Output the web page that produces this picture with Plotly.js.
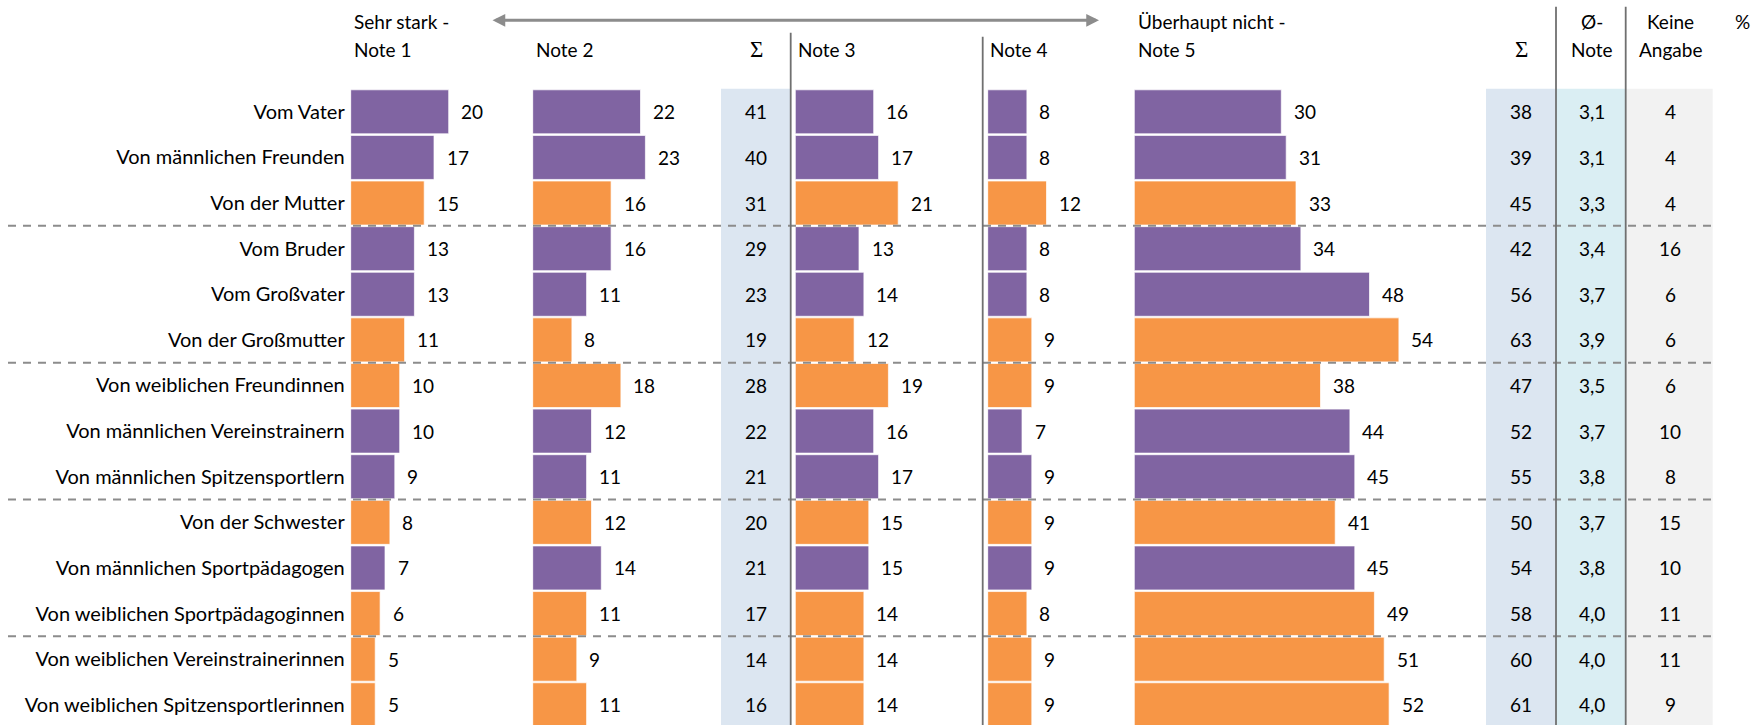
<!DOCTYPE html>
<html>
<head>
<meta charset="utf-8">
<script src="https://cdn.plot.ly/plotly-3.0.1.min.js"></script>
<style>html,body{margin:0;padding:0;background:#fff;}#chart{width:1752px;height:725px;}</style>
</head>
<body>
<div id="chart"></div>
<script>
// ---------------- DATA ----------------
const categories = [
  "Vom Vater",
  "Von männlichen Freunden",
  "Von der Mutter",
  "Vom Bruder",
  "Vom Großvater",
  "Von der Großmutter",
  "Von weiblichen Freundinnen",
  "Von männlichen Vereinstrainern",
  "Von männlichen Spitzensportlern",
  "Von der Schwester",
  "Von männlichen Sportpädagogen",
  "Von weiblichen Sportpädagoginnen",
  "Von weiblichen Vereinstrainerinnen",
  "Von weiblichen Spitzensportlerinnen"
];
const sourceGender = ["m","m","f","m","m","f","f","m","m","f","m","f","f","f"];
const note1 = [20,17,15,13,13,11,10,10,9,8,7,6,5,5];
const note2 = [22,23,16,16,11,8,18,12,11,12,14,11,9,11];
const sumNote12 = [41,40,31,29,23,19,28,22,21,20,21,17,14,16];
const note3 = [16,17,21,13,14,12,19,16,17,15,15,14,14,14];
const note4 = [8,8,12,8,8,9,9,7,9,9,9,8,9,9];
const note5 = [30,31,33,34,48,54,38,44,45,41,45,49,51,52];
const sumNote45 = [38,39,45,42,56,63,47,52,55,50,54,58,60,61];
const meanGrade = ["3,1","3,1","3,3","3,4","3,7","3,9","3,5","3,7","3,8","3,7","3,8","4,0","4,0","4,0"];
const noAnswer = [4,4,4,16,6,6,6,10,8,15,10,11,11,9];
const headerNotes = ["Note 1","Note 2","Note 3","Note 4","Note 5"];

// ---------------- LAYOUT HELPERS ----------------
const W = 1752, H = 725, T = 89.2;
const PH = H - T;
const px = x => x / W;
const py = y => (H - y) / PH;
const S = 4.9; // pixels per percentage point
const FONT = "Lato, 'Open Sans', sans-serif";
const FS = 19;
const PURPLE = "#8064A2", ORANGE = "#F79646";
const colors = sourceGender.map(g => g === "m" ? PURPLE : ORANGE);

const panels = [
  {vals: note1, a: 350.7, b: 530},
  {vals: note2, a: 532.7, b: 720},
  {vals: note3, a: 795.3, b: 980},
  {vals: note4, a: 987.7, b: 1130},
  {vals: note5, a: 1134.3, b: 1484}
];

const data = [];
const layout = {
  width: W, height: H,
  margin: {l: 0, r: 0, t: T, b: 0, pad: 0},
  paper_bgcolor: "#fff", plot_bgcolor: "rgba(0,0,0,0)",
  showlegend: false, barmode: "overlay", bargap: 0.035,
  hovermode: false,
  font: {family: FONT, size: FS, color: "#000"},
  yaxis: {
    type: "category", categoryorder: "array", categoryarray: categories,
    range: [-0.5 + PH / 45.6, -0.5], anchor: "x",
    showgrid: false, zeroline: false, showline: false, ticks: "",
    ticklabelstandoff: 5,
    tickfont: {family: FONT, size: 20, color: "#000"}
  },
  shapes: [], annotations: []
};

panels.forEach((p, i) => {
  const ax = i === 0 ? "x" : "x" + (i + 1);
  const key = i === 0 ? "xaxis" : "xaxis" + (i + 1);
  layout[key] = {
    domain: [px(p.a), px(p.b)], range: [0, (p.b - p.a) / S],
    showgrid: false, zeroline: false, showline: false, showticklabels: false, ticks: "",
    anchor: "y", fixedrange: true
  };
  data.push({
    type: "bar", orientation: "h", x: p.vals, y: categories,
    xaxis: ax, yaxis: "y",
    marker: {color: colors, line: {color: "rgba(255,255,255,0.7)", width: 1}},
    hoverinfo: "skip"
  });
  p.vals.forEach((v, j) => {
    layout.annotations.push({
      xref: ax, yref: "y", x: v, y: categories[j], text: String(v),
      xanchor: "left", yanchor: "middle", xshift: 11.5, showarrow: false,
      borderpad: 0, font: {family: FONT, size: FS, color: "#000"}
    });
  });
});

// shaded columns
const shade = (x0, x1, c) => layout.shapes.push({type: "rect", xref: "paper", yref: "paper",
  x0: px(x0), x1: px(x1), y0: -0.01, y1: py(89), fillcolor: c, line: {width: 0}, layer: "below"});
shade(721, 790.7, "#DCE6F1");
shade(1486, 1556, "#DCE6F1");
shade(1556, 1626, "#DAEEF3");
shade(1626, 1712.7, "#F2F2F2");

// table columns
const colText = (vals, xc) => vals.forEach((v, j) => layout.annotations.push({
  xref: "paper", yref: "y", x: px(xc), y: categories[j], text: String(v),
  xanchor: "center", yanchor: "middle", showarrow: false, borderpad: 0,
  font: {family: FONT, size: FS, color: "#000"}
}));
colText(sumNote12, 756);
colText(sumNote45, 1521);
colText(meanGrade, 1592);
colText(noAnswer, 1670);

// group separators (dashed)
[2.5, 5.5, 8.5, 11.5].forEach(yv => layout.shapes.push({
  type: "line", xref: "paper", yref: "y", x0: px(8), x1: px(1712.7), y0: yv, y1: yv,
  line: {color: "#8C8C8C", width: 2, dash: "8px,7px"}, layer: "above"
}));

// vertical separators
const vline = (x, ytop) => layout.shapes.push({type: "line", xref: "paper", yref: "paper",
  x0: px(x), x1: px(x), y0: py(ytop), y1: -0.01, line: {color: "#707070", width: 1.8}, layer: "above"});
vline(790.7, 33);
vline(982.7, 37);
vline(1556, 7);
vline(1625.7, 7);

// headers
const hdr = (text, x, y, anchor, fam, size) => layout.annotations.push({
  xref: "paper", yref: "paper", x: px(x), y: py(y), text: text,
  xanchor: anchor, yanchor: "middle", showarrow: false, borderpad: 0,
  font: {family: fam || FONT, size: size || FS, color: "#000"}
});
const SERIF = "'DejaVu Serif', 'Liberation Serif', serif";
hdr("Sehr stark -", 352.7, 21.7, "left");
hdr(headerNotes[0], 352.7, 50, "left");
hdr(headerNotes[1], 535, 50, "left");
hdr("Σ", 756, 50, "center", "'Liberation Serif', serif", 23);
hdr(headerNotes[2], 796.7, 50, "left");
hdr(headerNotes[3], 989.3, 50, "left");
hdr("Überhaupt nicht -", 1136.7, 21.7, "left");
hdr(headerNotes[4], 1136.7, 50, "left");
hdr("Σ", 1521, 50, "center", "'Liberation Serif', serif", 23);
hdr("Ø-", 1592, 21.7, "center");
hdr("Note", 1592, 50, "center");
hdr("Keine", 1670, 21.7, "center");
hdr("Angabe", 1670, 50, "center");
hdr("%", 1742.7, 21.7, "center");

// double-headed arrow
layout.annotations.push({
  xref: "paper", yref: "paper", x: px(1099), y: py(20.5), axref: "pixel", ayref: "pixel",
  ax: -(1099 - 491), ay: 0, text: "", showarrow: true, arrowside: "end+start",
  arrowhead: 2, arrowsize: 0.85, arrowwidth: 3, arrowcolor: "#8C8C8C", standoff: 0, startstandoff: 0
});

Plotly.newPlot("chart", data, layout, {staticPlot: true, displayModeBar: false});
</script>
</body>
</html>
